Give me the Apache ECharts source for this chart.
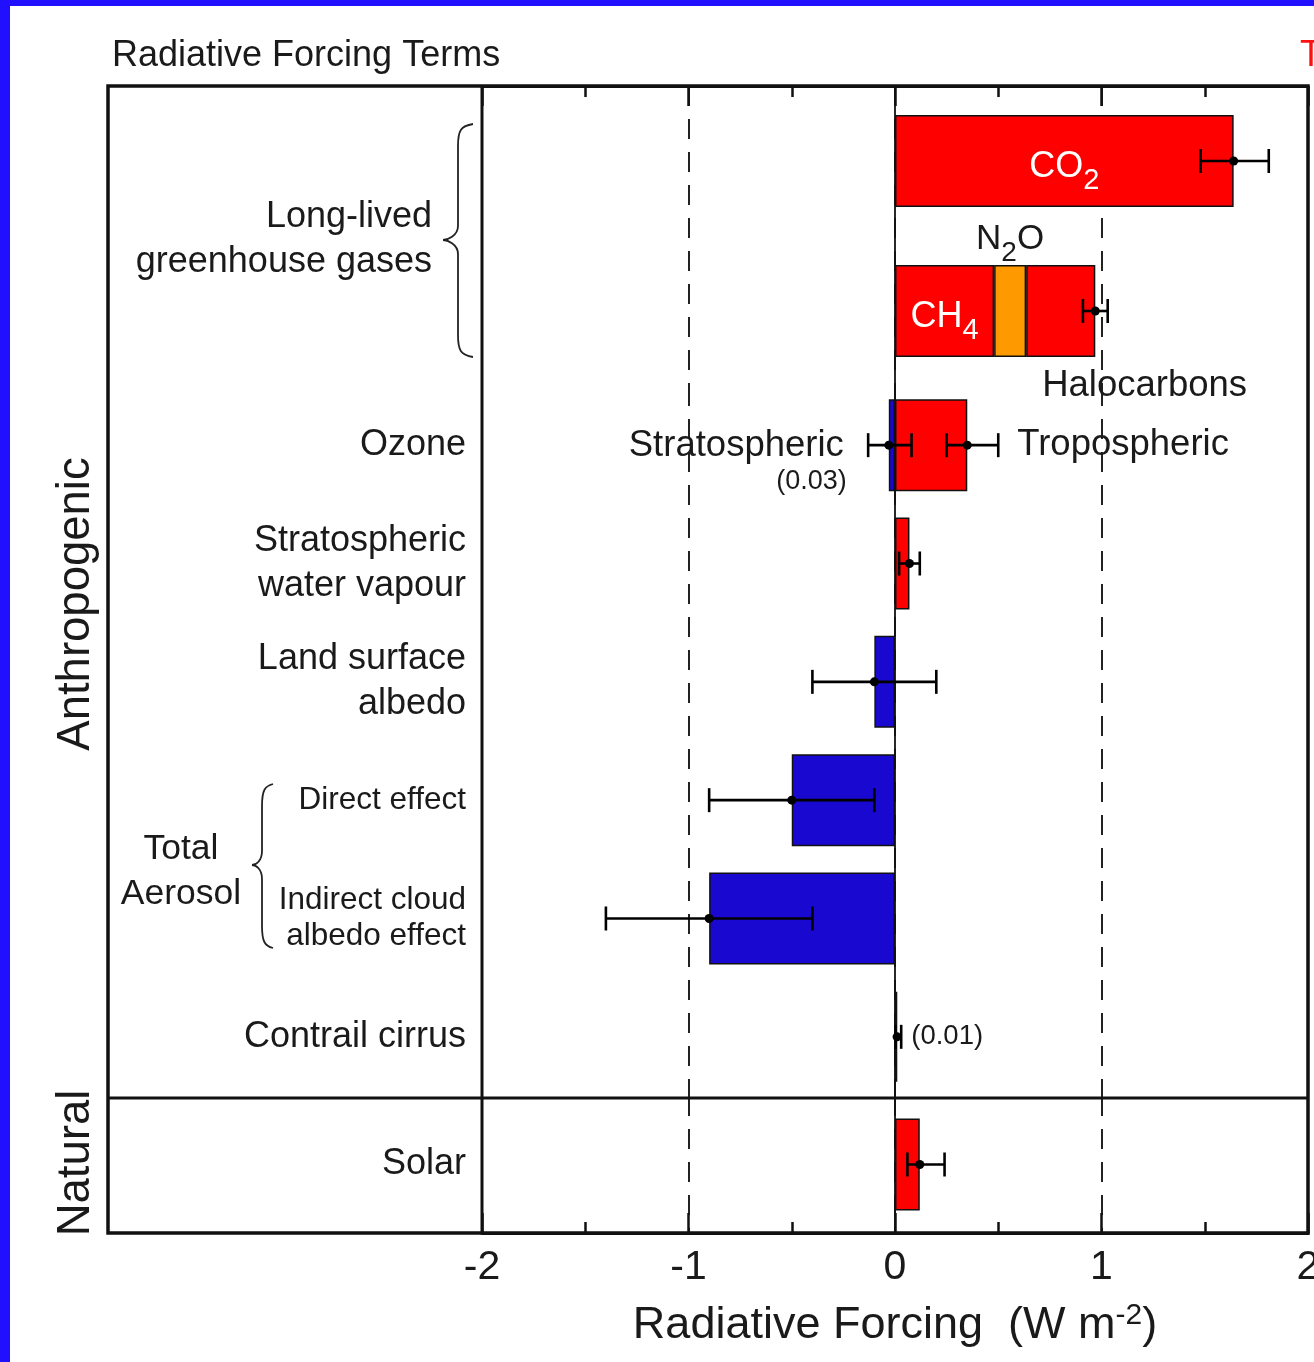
<!DOCTYPE html>
<html><head><meta charset="utf-8">
<script src="https://cdn.jsdelivr.net/npm/echarts@6/dist/echarts.min.js"></script>
<style>html,body{margin:0;padding:0;background:#fff}#c{width:1314px;height:1362px}</style>
</head><body><div id="c"></div>
<script>
// ---------- data ----------
const ghgRows = ['CO₂', 'CH₄ + N₂O + Halocarbons'];
const otherRows = ['Ozone', 'Stratospheric\nwater vapour', 'Land surface\nalbedo', 'Direct effect', 'Indirect cloud\nalbedo effect', 'Contrail cirrus'];
const naturalRows = ['Solar'];
const xTickLabels = ['-2', '-1', '0', '1', '2'];

const co2 = [1.64, '-'];
const ch4 = ['-', 0.48];
const n2o = ['-', 0.155];
const halocarbons = ['-', 0.335];

const stratOzone = [-0.03, '-', '-', '-', '-', '-'];
const tropOzone = [0.35, '-', '-', '-', '-', '-'];
const stratWaterVapour = ['-', 0.07, '-', '-', '-', '-'];
const landAlbedo = ['-', '-', -0.10, '-', '-', '-'];
const aerosolDirect = ['-', '-', '-', -0.50, '-', '-'];
const cloudAlbedo = ['-', '-', '-', '-', -0.90, '-'];
const contrails = ['-', '-', '-', '-', '-', 0.01];
const solar = [0.12];

// error bars: [row, best estimate, low, high]
const ghgErr = [[0, 1.64, 1.48, 1.81], [1, 0.97, 0.91, 1.03]];
const otherErr = [[0, -0.03, -0.13, 0.08], [0, 0.35, 0.25, 0.50], [1, 0.07, 0.02, 0.12],
  [2, -0.10, -0.40, 0.20], [3, -0.50, -0.90, -0.10], [4, -0.90, -1.40, -0.40], [5, 0.01, 0.003, 0.03]];
const naturalErr = [[0, 0.12, 0.06, 0.24]];

// ---------- layout / style ----------
const FONT = "'Liberation Sans', Arial, Helvetica, sans-serif";
const TXT = '#1a1a1a';
const RED = '#ff0000', BLUE = '#1808d0', ORANGE = '#ff9900';
const FL = 108, PL = 482, PR = 1308, FT = 86, FB = 1233, SEP = 1098;
const gA = {top: FT, height: 300};
const gB = {top: 386, height: 710};
const gC = {top: 1096, height: FB - 1096};

const chart = echarts.init(document.getElementById('c'), null, {renderer: 'canvas'});

function xAxisFor(gi, mode) {
  const base = {
    type: 'value', gridIndex: gi, min: -2, max: 2, interval: 1,
    show: true,
    splitLine: {show: true, lineStyle: {type: [20, 13], color: '#222', width: 2}},
    axisLine: {show: false}, axisTick: {show: false}, axisLabel: {show: false},
    minorTick: {show: false}
  };
  if (mode === 'top' || mode === 'bottom') {
    base.position = mode;
    base.axisLine = {show: true, onZero: false, lineStyle: {color: '#111', width: 3}};
    base.axisTick = {show: true, inside: true, length: 20, lineStyle: {color: '#111', width: 2.5}};
    base.minorTick = {show: true, splitNumber: 2, length: 11, lineStyle: {color: '#111', width: 2.5}};
  }
  if (mode === 'bottom') {
    base.axisLabel = {show: true, margin: 14, fontSize: 41, color: TXT, fontFamily: FONT,
      formatter: (v) => xTickLabels[Math.round(v) + 2]};
    base.name = '{a|Radiative Forcing  (W m}{s|-2}{a|)}';
    base.nameLocation = 'middle';
    base.nameGap = 68;
    base.nameTextStyle = {fontFamily: FONT, color: TXT, rich: {
      a: {fontSize: 45, lineHeight: 50, fontFamily: FONT, color: TXT},
      s: {fontSize: 30, lineHeight: 50, verticalAlign: 'top', fontFamily: FONT, color: TXT, padding: [0, 0, 14, 0]}
    }};
  }
  return base;
}
function yAxisFor(gi, cats, showLabels) {
  return {
    type: 'category', gridIndex: gi, data: cats, inverse: true,
    axisLine: {show: false}, axisTick: {show: false}, splitLine: {show: false},
    axisLabel: showLabels ? {show: true, margin: 16, fontSize: 36, lineHeight: 45, color: TXT, fontFamily: FONT, align: 'right'} : {show: false}
  };
}

const subRich = (size, color) => ({
  a: {fontSize: size, lineHeight: size + 6, color: color, fontFamily: FONT},
  s: {fontSize: Math.round(size * 0.8), lineHeight: 20, padding: [28, 0, 0, 0], color: color, fontFamily: FONT}
});

function errRender(params, api) {
  const row = api.value(0), best = api.value(1), lo = api.value(2), hi = api.value(3);
  const pLo = api.coord([lo, row]), pHi = api.coord([hi, row]), pB = api.coord([best, row]);
  const cap = 12;
  const st = {stroke: '#000', lineWidth: 2.6};
  return {type: 'group', children: [
    {type: 'line', shape: {x1: pLo[0], y1: pLo[1], x2: pHi[0], y2: pHi[1]}, style: st},
    {type: 'line', shape: {x1: pLo[0], y1: pLo[1] - cap, x2: pLo[0], y2: pLo[1] + cap}, style: st},
    {type: 'line', shape: {x1: pHi[0], y1: pHi[1] - cap, x2: pHi[0], y2: pHi[1] + cap}, style: st},
    {type: 'circle', shape: {cx: pB[0], cy: pB[1], r: 4.5}, style: {fill: '#000'}}
  ]};
}
function errSeries(gi, data) {
  return {type: 'custom', xAxisIndex: gi, yAxisIndex: gi, renderItem: errRender, data: data,
    encode: {x: [1, 2, 3], y: 0}, z: 10, silent: true};
}
function zeroLine(gi, n) {
  return {type: 'line', xAxisIndex: gi, yAxisIndex: gi, data: new Array(n).fill('-'), z: 1, silent: true,
    markLine: {symbol: 'none', silent: true, label: {show: false},
      lineStyle: {type: 'solid', color: '#111', width: 1.8}, data: [{xAxis: 0}]}};
}
function bar(gi, stack, data, color, name, extra) {
  return Object.assign({type: 'bar', name: name, xAxisIndex: gi, yAxisIndex: gi, stack: stack, data: data,
    barWidth: 92, z: 2, silent: true,
    itemStyle: {color: color, borderColor: '#111', borderWidth: 1.5}}, extra || {});
}
// curly brace "{" built from bezier segments
function brace(xr, xm, xt, y0, ym, y1) {
  const st = {fill: 'none', stroke: '#222', lineWidth: 1.8};
  const r = 14;
  const seg = (x1, y1_, cpx1, cpy1, cpx2, cpy2, x2, y2) => ({type: 'bezierCurve', z: 50, silent: true,
    shape: {x1: x1, y1: y1_, cpx1: cpx1, cpy1: cpy1, cpx2: cpx2, cpy2: cpy2, x2: x2, y2: y2}, style: st});
  const ln = (x1, y1_, x2, y2) => ({type: 'line', z: 50, silent: true, shape: {x1: x1, y1: y1_, x2: x2, y2: y2}, style: st});
  return [
    seg(xr, y0, xm + 3, y0 + 2, xm, y0 + 6, xm, y0 + r + 8),
    ln(xm, y0 + r + 8, xm, ym - r),
    seg(xm, ym - r, xm, ym - 4, xt + 4, ym, xt, ym),
    seg(xt, ym, xt + 4, ym, xm, ym + 4, xm, ym + r),
    ln(xm, ym + r, xm, y1 - r - 8),
    seg(xm, y1 - r - 8, xm, y1 - 6, xm + 3, y1 - 2, xr, y1)
  ];
}
const gridBase = {left: PL, width: PR - PL, containLabel: false, outerBoundsMode: 'none'};

const option = {
  animation: false,
  backgroundColor: '#fff',
  textStyle: {fontFamily: FONT},
  grid: [
    Object.assign({top: gA.top, height: gA.height}, gridBase),
    Object.assign({top: gB.top, height: gB.height}, gridBase),
    Object.assign({top: gC.top, height: gC.height}, gridBase)
  ],
  xAxis: [xAxisFor(0, 'top'), xAxisFor(1, 'none'), xAxisFor(2, 'bottom')],
  yAxis: [yAxisFor(0, ghgRows, false), yAxisFor(1, otherRows, true), yAxisFor(2, naturalRows, true)],
  series: [
    zeroLine(0, 2), zeroLine(1, 6), zeroLine(2, 1),
    bar(0, 'ghg', co2, RED, 'CO₂', {label: {show: true, position: 'inside', formatter: '{a|CO}{s|2}', rich: subRich(36, '#fff'), offset: [0, 6]}}),
    bar(0, 'ghg', ch4, RED, 'CH₄', {label: {show: true, position: 'inside', formatter: '{a|CH}{s|4}', rich: subRich(36, '#fff'), offset: [0, 6]}}),
    bar(0, 'ghg', n2o, ORANGE, 'N₂O', {label: {show: true, position: 'top', distance: 5, formatter: '{a|N}{s|2}{a|O}', rich: subRich(35, TXT)}}),
    bar(0, 'ghg', halocarbons, RED, 'Halocarbons', {label: {show: true, position: [16, 121], align: 'left', verticalAlign: 'middle',
      formatter: 'Halocarbons', fontSize: 36.5, color: TXT, fontFamily: FONT}}),
    bar(1, 'other', stratOzone, BLUE, 'Stratospheric ozone', {label: {show: true, position: 'left', distance: 42, offset: [0, 16],
      formatter: '{a|Stratospheric}\n{b|(0.03)}', align: 'right', rich: {
        a: {fontSize: 36.5, lineHeight: 40, color: TXT, fontFamily: FONT, padding: [0, 3, 0, 0]},
        b: {fontSize: 27, lineHeight: 30, color: TXT, fontFamily: FONT}}}}),
    bar(1, 'other', tropOzone, RED, 'Tropospheric ozone', {label: {show: true, position: 'right', distance: 50,
      formatter: 'Tropospheric', fontSize: 36.5, color: TXT, fontFamily: FONT}}),
    bar(1, 'other', stratWaterVapour, RED, 'Stratospheric water vapour'),
    bar(1, 'other', landAlbedo, BLUE, 'Land surface albedo'),
    bar(1, 'other', aerosolDirect, BLUE, 'Direct effect'),
    bar(1, 'other', cloudAlbedo, BLUE, 'Indirect cloud albedo effect'),
    bar(1, 'other', contrails, '#111', 'Contrail cirrus', {itemStyle: {color: '#111', borderColor: '#111', borderWidth: 2.5},
      label: {show: true, position: 'right', distance: 14, formatter: '(0.01)', fontSize: 27.5, color: TXT, fontFamily: FONT}}),
    bar(2, 'nat', solar, RED, 'Solar'),
    errSeries(0, ghgErr), errSeries(1, otherErr), errSeries(2, naturalErr)
  ],
  graphic: [
    {type: 'rect', shape: {x: FL, y: FT, width: PR - FL, height: FB - FT}, style: {fill: 'none', stroke: '#111', lineWidth: 3.5}, z: 50, silent: true},
    {type: 'line', shape: {x1: PL, y1: FT, x2: PL, y2: FB}, style: {stroke: '#111', lineWidth: 3}, z: 50, silent: true},
    {type: 'line', shape: {x1: FL, y1: SEP, x2: PR, y2: SEP}, style: {stroke: '#111', lineWidth: 3}, z: 50, silent: true},
    {type: 'text', x: 112, y: 56, style: {text: 'Radiative Forcing Terms', fontSize: 36, fill: TXT, fontFamily: FONT, verticalAlign: 'middle'}, z: 50},
    {type: 'text', x: 1300, y: 56, style: {text: 'T', fontSize: 36, fill: '#ff1010', fontFamily: FONT, verticalAlign: 'middle'}, z: 50},
    {type: 'text', x: 432, y: 240, style: {text: 'Long-lived\ngreenhouse gases', fontSize: 36, lineHeight: 45, fill: TXT, fontFamily: FONT, align: 'right', verticalAlign: 'middle'}, z: 50},
    {type: 'text', x: 181, y: 872, style: {text: 'Total\nAerosol', fontSize: 35.5, lineHeight: 45, fill: TXT, fontFamily: FONT, align: 'center', verticalAlign: 'middle'}, z: 50},
    {type: 'text', x: 76, y: 604, rotation: Math.PI / 2, style: {text: 'Anthropogenic', fontSize: 45.5, fill: TXT, fontFamily: FONT, align: 'center', verticalAlign: 'middle'}, z: 50},
    {type: 'text', x: 76, y: 1163, rotation: Math.PI / 2, style: {text: 'Natural', fontSize: 45.5, fill: TXT, fontFamily: FONT, align: 'center', verticalAlign: 'middle'}, z: 50}
  ].concat(brace(473, 458, 443, 124, 240, 357), brace(273, 262, 252, 784, 865, 948), [
    {type: 'rect', shape: {x: 0, y: 0, width: 1314, height: 6}, style: {fill: '#2010ff'}, z: 60, silent: true},
    {type: 'rect', shape: {x: 0, y: 0, width: 10, height: 1362}, style: {fill: '#2010ff'}, z: 60, silent: true}
  ])
};
// smaller font for the aerosol sub-labels
option.yAxis[1].data = otherRows.map((c, i) => (i === 3 || i === 4)
  ? {value: c, textStyle: {fontSize: 31.5, lineHeight: 36}} : c);
option.yAxis[2].axisLabel.padding = [0, 0, 28, 0];
chart.setOption(option);
</script></body></html>
